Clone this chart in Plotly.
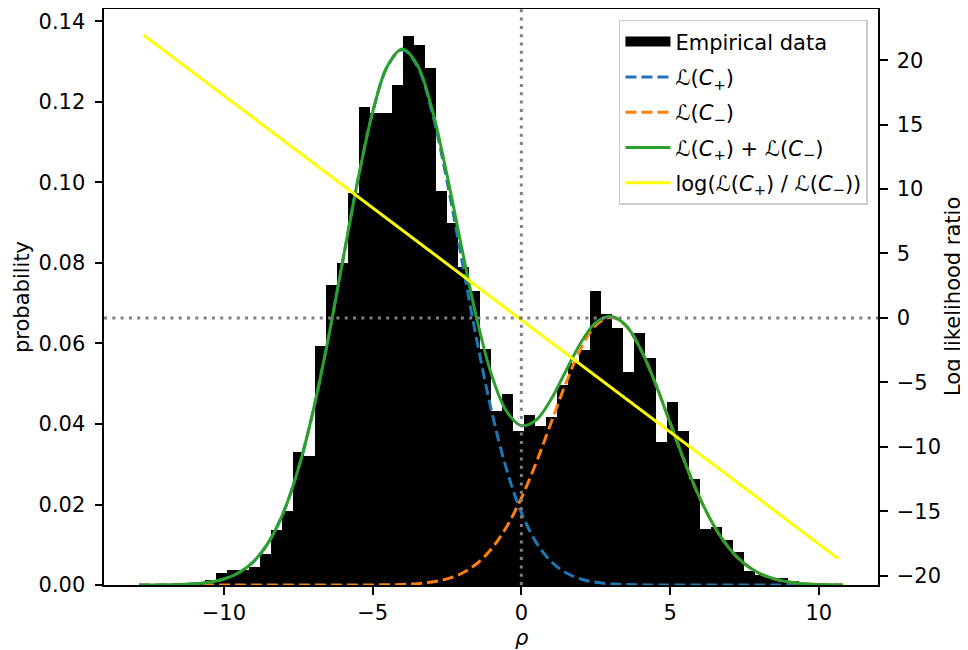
import plotly.graph_objects as go

# ---------------- data ----------------
bin_start = -12.85
bin_width = 0.3697
hist_density = [
    0.0002, 0.0001, 0.0002, 0.0003, 0.0005, 0.0008, 0.0012, 0.0031,
    0.0038, 0.0038, 0.0044, 0.0078, 0.0137, 0.0185, 0.0331, 0.0321,
    0.0593, 0.0745, 0.0801, 0.0973, 0.1188, 0.1172, 0.1172, 0.1243,
    0.1363, 0.1342, 0.1285, 0.0978, 0.0900, 0.0790, 0.0731, 0.0586,
    0.0432, 0.0474, 0.0383, 0.0422, 0.0396, 0.0418, 0.0497, 0.0552,
    0.0585, 0.0730, 0.0673, 0.0639, 0.0529, 0.0626, 0.0564, 0.0356,
    0.0455, 0.0383, 0.0264, 0.0140, 0.0145, 0.0111, 0.0083, 0.0036,
    0.0026, 0.0017, 0.0017, 0.0009, 0.0005, 0.0003, 0.0002, 0.0001,
]

curve_x = [-12.85, -12.5, -12.0, -11.5, -11.0, -10.5, -10.0, -9.5, -9.0, -8.5,
           -8.0, -7.5, -7.0, -6.5, -6.0, -5.5, -5.0, -4.5, -4.0, -3.5,
           -3.0, -2.5, -2.0, -1.5, -1.0, -0.5, 0.0, 0.5, 1.0, 1.5,
           2.0, 2.5, 3.0, 3.5, 4.0, 4.5, 5.0, 5.5, 6.0, 6.5,
           7.0, 7.5, 8.0, 8.5, 9.0, 9.5, 10.0, 10.5, 10.81]
like_plus = [0.00001, 0.000016, 0.000045, 0.00012, 0.00029, 0.00068, 0.00148, 0.00303, 0.00584, 0.0106,
             0.0180, 0.0288, 0.0432, 0.0609, 0.0807, 0.1004, 0.1174, 0.1289, 0.1330, 0.1289,
             0.1174, 0.1004, 0.0807, 0.0609, 0.0432, 0.0288, 0.0180, 0.0106, 0.00584, 0.00303,
             0.00148, 0.00068, 0.00029, 0.00012, 0.000045, 0.000016, 0.0, 0.0, 0.0, 0.0,
             0.0, 0.0, 0.0, 0.0, 0.0, 0.0, 0.0, 0.0, 0.0]
like_minus = [0.0, 0.0, 0.0, 0.0, 0.0, 0.0, 0.0, 0.0, 0.0, 0.0,
              0.0, 0.0, 0.0, 0.0, 0.0, 0.0, 0.000022, 0.000059, 0.000145, 0.00034,
              0.00074, 0.00152, 0.00292, 0.00529, 0.0090, 0.0144, 0.0216, 0.0304, 0.0403, 0.0502,
              0.0587, 0.0645, 0.0665, 0.0645, 0.0587, 0.0502, 0.0403, 0.0304, 0.0216, 0.0144,
              0.0090, 0.00529, 0.00292, 0.00152, 0.00074, 0.00034, 0.000145, 0.000059, 0.00003]

ratio_x = [-12.7, 10.66]
log_ratio = [21.94, -18.7]

x_ticks = [-10, -5, 0, 5, 10]
y_ticks = [0.00, 0.02, 0.04, 0.06, 0.08, 0.10, 0.12, 0.14]
y2_ticks = [-20, -15, -10, -5, 0, 5, 10, 15, 20]

# ---------------- derived ----------------
bin_centers = [bin_start + bin_width * (i + 0.5) for i in range(len(hist_density))]
like_sum = [a + b for a, b in zip(like_plus, like_minus)]

FONT = "DejaVu Sans"
FS = 21
LW = 3

# the page body has an 8px margin, so the figure is drawn 8px smaller
W, H = 960, 642
ML, MR, MT, MB = 96, 90, 1, 65

fig = go.Figure()
fig.add_trace(go.Bar(x=bin_centers, y=hist_density, width=bin_width,
                     marker=dict(color="black", line=dict(width=0)),
                     name="Empirical data", showlegend=False))
# legend swatch for the histogram (wide black rectangle, as in the reference)
fig.add_trace(go.Scatter(x=[None], y=[None], mode="lines",
                         line=dict(color="black", width=16),
                         name="Empirical data", legendgroup="g0"))
fig.add_trace(go.Scatter(x=curve_x, y=like_plus, mode="lines", line_shape="spline",
                         line=dict(color="#1f77b4", width=LW, dash="11px,5px"),
                         name="ℒ(<i>C</i><sub>+</sub>)", legendgroup="g1"))
fig.add_trace(go.Scatter(x=curve_x, y=like_minus, mode="lines", line_shape="spline",
                         line=dict(color="#ff7f0e", width=LW, dash="11px,5px"),
                         name="ℒ(<i>C</i><sub>−</sub>)", legendgroup="g2"))
fig.add_trace(go.Scatter(x=curve_x, y=like_sum, mode="lines", line_shape="spline",
                         line=dict(color="#2ca02c", width=LW),
                         name="ℒ(<i>C</i><sub>+</sub>) + ℒ(<i>C</i><sub>−</sub>)", legendgroup="g3"))
fig.add_trace(go.Scatter(x=ratio_x, y=log_ratio, mode="lines", yaxis="y2",
                         line=dict(color="#ffff00", width=LW),
                         name="log(ℒ(<i>C</i><sub>+</sub>) / ℒ(<i>C</i><sub>−</sub>))", legendgroup="g4"))

dot = dict(color="#808080", width=3, dash="3px,5.3px")
fig.add_shape(type="line", xref="x", yref="paper", x0=0, x1=0, y0=0, y1=1,
              line=dot, layer="above")
fig.add_shape(type="line", xref="paper", yref="y2", x0=0, x1=1, y0=0, y1=0,
              line=dot, layer="above")

axis_common = dict(showgrid=False, zeroline=False, showline=True, linecolor="black",
                   linewidth=2, ticks="outside", ticklen=7.5, tickwidth=1.8,
                   tickcolor="black", automargin=False,
                   tickfont=dict(family=FONT, size=FS, color="black"))

fig.update_layout(
    width=W, height=H,
    margin=dict(l=ML, r=MR, t=MT, b=MB),
    paper_bgcolor="white", plot_bgcolor="white",
    font=dict(family=FONT, size=FS, color="black"),
    bargap=0,
    showlegend=True,
    xaxis=dict(range=[-14.03, 11.99], tickvals=x_ticks, mirror=True,
               ticklabelstandoff=0, **axis_common),
    yaxis=dict(range=[0, 0.1431], tickvals=y_ticks, tickformat=".2f",
               ticklabelstandoff=5, **axis_common),
    yaxis2=dict(range=[-20.73, 23.97], tickvals=y2_ticks, overlaying="y", side="right",
                ticklabelstandoff=5, **axis_common),
    legend=dict(x=0.987, y=0.981, xanchor="right", yanchor="top",
                bgcolor="rgba(255,255,255,0.8)", bordercolor="#cccccc", borderwidth=1.5,
                font=dict(family=FONT, size=FS), itemwidth=45,
                traceorder="grouped", tracegroupgap=5),
)

# axis titles placed in page pixels (page = figure + 8px body margin)
plot_w = W - ML - MR
plot_h = H - MT - MB
left_px, top_px = ML + 8, MT + 8


def px_x(p):
    return (p - left_px) / plot_w


def px_y(p):
    return (top_px + plot_h - p) / plot_h


fig.add_annotation(text="probability", x=px_x(22), y=0.5, xref="paper", yref="paper",
                   showarrow=False, textangle=-90, xanchor="center", yanchor="middle",
                   font=dict(family=FONT, size=FS))
fig.add_annotation(text="Log likelihood ratio", x=px_x(953), y=0.5, xref="paper", yref="paper",
                   showarrow=False, textangle=-90, xanchor="center", yanchor="middle",
                   font=dict(family=FONT, size=FS))
fig.add_annotation(text="<i>ρ</i>", x=px_x(522), y=px_y(638), xref="paper", yref="paper",
                   showarrow=False, xanchor="center", yanchor="middle",
                   font=dict(family=FONT, size=FS))

fig.write_html("out.html")
